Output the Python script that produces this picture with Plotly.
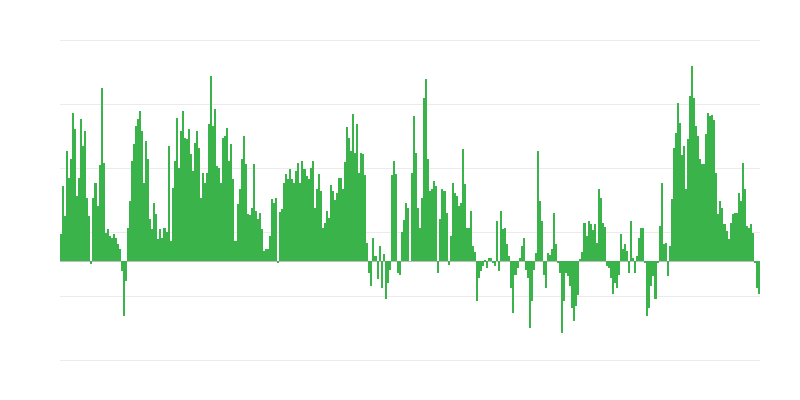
import plotly.graph_objects as go

# Bar values (arbitrary units; zero baseline)
seg1 = [27, 75, 45, 110, 83, 102, 148, 132, 65, 83, 142, 115, 130, 63, 45, -3, 63, 78, 55, 96,
        173, 98, 28, 32, 25, 23, 27, 23, 17, 12, -10, -55, -20, 33, 60, 100, 117, 135, 142, 150,
        130, 78, 120]
seg2 = [102, 42, 32, 58, 47, 22, 32, 23, 33, 29, 115, 20, 73, 100, 143, 93, 130, 150, 123, 122,
        132, 107, 90, 118, 130, 113, 63, 88, 78, 88, 137, 185, 135, 152, 95, 93, 78, 123, 125, 133,
        100, 117, 82]
seg3 = [20, 57, 72, 102, 125, 97, 47, 46, 53, 97, 50, 42, 48, 32, 10, 12, 12, 25, 62, 58,
        63, -2, 49, 52, 78, 87, 82, 92, 82, 78, 90, 98, 78, 100, 92, 85, 82, 93, 100, 53,
        72, 87, 70]
seg4 = [33, 38, 50, 43, 76, 70, 61, 68, 83, 83, 72, 99, 134, 123, 110, 147, 108, 137, 88, 108,
        107, 86, 18, -12, -25, 23, 5, -18, 15, -27, 7, -38, -22, -9, 86, 100, 87, -12, -14, 29,
        41, 58, 53, 0]
seg5 = [88, 145, 108, 53, 33, 63, 163, 182, 102, 70, 72, 80, 75, -12, 42, 72, 70, 48, -4, 25,
        78, 68, 65, 55, 58, 112, 77, 33, 33, 50, 15, 9, -40, -17, -10, -5, 1, -7, 3, 3,
        -2, -5, 40, -10]
seg6 = [50, 32, 33, 17, 5, -27, -52, -14, -7, 3, 15, 23, -9, -17, -67, -40, -9, 8, 110, 60,
        40, -14, -27, 8, 6, 12, 48, 17, -2, -12, -72, -40, -12, -15, -25, -47, -60, -45, -34, 2,
        9, 38, 25]
seg7 = [40, 37, 31, 37, 18, 72, 63, 38, 34, -5, -7, -17, -33, -22, -27, -14, 27, 12, 17, 10,
        -12, 40, 3, -12, 5, 23, 33, 33, -2, -55, -47, -25, -15, -38, -2, 35, 78, 17, 18, -15,
        15, 62, 113]
seg8 = [128, 158, 138, 106, 115, 72, 122, 165, 195, 163, 135, 125, 102, 97, 97, 127, 148, 145, 146, 141,
        88, 47, 60, 53, 37, 30, 22, 38, 47, 48, 48, 68, 60, 98, 72, 35, 33, 37, 28, -1,
        -27, -33]

values = seg1 + seg2 + seg3 + seg4 + seg5 + seg6 + seg7 + seg8
x = list(range(len(values)))

# Gridline positions (same units as values)
grid_vals = [-98.7, -34.7, 29.3, 93.3, 157.3, 221.3]

fig = go.Figure(go.Bar(
    x=x, y=values,
    marker=dict(color="#39B34A", line=dict(width=0)),
    hoverinfo="y",
))

# page body has an 8px default margin, so the figure is offset by 8px
fig.update_layout(
    width=792, height=392,
    margin=dict(l=52, r=40, t=28, b=36),
    paper_bgcolor="white", plot_bgcolor="white",
    bargap=0,
    showlegend=False,
    xaxis=dict(range=[-0.5, len(values) - 0.5], showgrid=False, zeroline=False,
               showticklabels=False, ticks="", showline=False),
    yaxis=dict(range=[grid_vals[0] - 4, grid_vals[-1] + 4], tickvals=grid_vals,
               showgrid=True, gridcolor="#ebebeb", gridwidth=1,
               showticklabels=False, ticks="",
               zeroline=True, zerolinecolor="#bdbdbd", zerolinewidth=1, showline=False),
)

fig.write_html("out.html")
